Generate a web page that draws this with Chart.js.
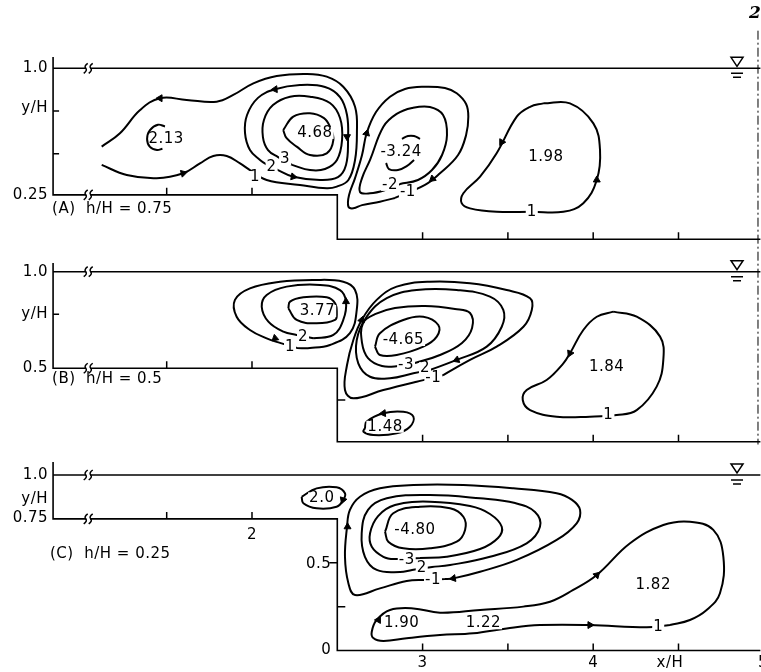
<!DOCTYPE html>
<html>
<head>
<meta charset="utf-8">
<title>Streamlines over a backward-facing step</title>
<script src="https://cdn.jsdelivr.net/npm/chart.js@4.4.0/dist/chart.umd.min.js"></script>
<style>
  html, body { margin: 0; padding: 0; background: #fff; }
  #wrap { width: 761px; height: 672px; }
</style>
</head>
<body>
<div id="wrap"><canvas id="chart" width="761" height="672"></canvas></div>
<script>
// ---------- flume geometry (x/H, y/H) ----------
const xLeft = 0.834, xRight = 4.98, xStep = 2.5, xBreak = 1.04, xSurf = 4.843;
const stepTopA = 0.26, stepTopB = 0.432, stepTopC = 0.75;

// ---------- axis ticks & labels ----------
const xTicksUpper = [1.5, 2.0];
const xTicksLower = [3, 3.5, 4, 4.5];
const leftTicksA = [0.75, 0.5];
const leftTicksB = [0.75];
const yLabelsA = [[1.0, '1.0'], [0.768, 'y/H'], [0.26, '0.25']];
const yLabelsB = [[1.0, '1.0'], [0.75, 'y/H'], [0.432, '0.5']];
const yLabelsC = [[1.0, '1.0'], [0.863, 'y/H'], [0.755, '0.75']];
const xLabelsC = [[2.0, 0.658, '2'], [3.0, -0.071, '3'], [4.0, -0.071, '4'], [4.45, -0.071, 'x/H'], [4.995, -0.071, '5']];

// ---------- panel A : h/H = 0.75 ----------
const a1 = [[1.119,0.542],[1.226,0.620],[1.344,0.756],[1.461,0.825],[1.617,0.815],[1.793,0.805],[1.890,0.844],
  [2.008,0.912],[2.145,0.955],[2.320,0.967],[2.438,0.951],[2.535,0.892],[2.604,0.775],[2.615,0.620],[2.604,0.464],
  [2.565,0.347],[2.497,0.308],[2.438,0.298],[2.281,0.318],[2.086,0.347],[1.988,0.405],[1.930,0.444],[1.852,0.487],
  [1.773,0.487],[1.695,0.444],[1.597,0.386],[1.441,0.357],[1.266,0.376],[1.119,0.435]];
const a2 = [[2.153,0.405],[2.242,0.366],[2.399,0.347],[2.504,0.364],[2.551,0.435],[2.563,0.581],[2.557,0.727],
  [2.516,0.832],[2.428,0.891],[2.281,0.902],[2.135,0.877],[2.035,0.827],[1.971,0.727],[1.959,0.622],[1.988,0.522],
  [2.047,0.464],[2.082,0.440]];
const a3 = [[2.235,0.435],[2.340,0.405],[2.428,0.411],[2.498,0.464],[2.528,0.581],[2.516,0.709],[2.457,0.797],
  [2.340,0.834],[2.223,0.834],[2.123,0.785],[2.070,0.698],[2.064,0.598],[2.094,0.522],[2.153,0.481]];
const a468 = [[2.183,0.639],[2.242,0.717],[2.340,0.737],[2.422,0.709],[2.457,0.658],[2.477,0.581],[2.438,0.503],
  [2.340,0.493],[2.262,0.542],[2.203,0.591]];
const a213 = [[1.490,0.660],[1.449,0.670],[1.402,0.639],[1.385,0.587],[1.402,0.540],[1.443,0.522],[1.475,0.530]];
const aM1 = [[2.838,0.242],[2.750,0.220],[2.645,0.200],[2.594,0.181],[2.565,0.191],[2.569,0.259],[2.604,0.358],
  [2.645,0.493],[2.672,0.620],[2.727,0.744],[2.809,0.834],[2.897,0.879],[3.004,0.892],[3.131,0.885],[3.200,0.854],
  [3.255,0.791],[3.268,0.717],[3.255,0.610],[3.208,0.493],[3.102,0.386],[3.014,0.318]];
const aM2 = [[2.868,0.323],[2.780,0.288],[2.692,0.269],[2.633,0.277],[2.645,0.358],[2.692,0.464],[2.770,0.658],
  [2.848,0.733],[2.938,0.768],[3.043,0.774],[3.120,0.727],[3.143,0.610],[3.114,0.493],[3.055,0.405],[2.973,0.347]];
const aM324up = [[2.879,0.587],[2.914,0.604],[2.950,0.604],[2.985,0.587]];
const aM324lo = [[2.786,0.446],[2.803,0.411],[2.856,0.405],[2.909,0.429],[2.950,0.464]];
const a198 = [[3.708,0.795],[3.864,0.795],[4.001,0.678],[4.040,0.522],[4.021,0.347],[3.942,0.211],[3.825,0.161],
  [3.640,0.161],[3.434,0.161],[3.278,0.181],[3.229,0.211],[3.239,0.269],[3.337,0.366],[3.434,0.503],[3.552,0.717],
  [3.630,0.775]];
// [x, y, text, cut a gap in the line?]
const labelsA = [[2.369,0.622,'4.68',true],[1.497,0.585,'2.13',false],[2.018,0.364,'1',true],[2.115,0.425,'2',true],
  [2.194,0.468,'3',true],[2.874,0.512,'-3.24',true],[2.809,0.318,'-2',true],[2.914,0.277,'-1',true],
  [3.723,0.483,'1.98',true],[3.640,0.161,'1',true]];
const arrowsA = [[1.461,0.825,270],[1.597,0.386,75],[2.242,0.366,100],[2.557,0.600,180],[2.135,0.877,265],
  [2.672,0.620,15],[3.058,0.353,230],[4.021,0.347,0],[3.464,0.568,210]];

// ---------- panel B : h/H = 0.5 ----------
const b1 = [[2.264,0.551],[2.340,0.551],[2.457,0.569],[2.574,0.638],[2.614,0.775],[2.604,0.892],[2.535,0.941],
  [2.360,0.951],[2.164,0.941],[1.988,0.902],[1.900,0.834],[1.910,0.735],[1.988,0.657],[2.086,0.608],[2.164,0.581]];
const b2 = [[2.360,0.608],[2.477,0.628],[2.535,0.716],[2.551,0.824],[2.516,0.892],[2.399,0.922],[2.203,0.912],
  [2.086,0.863],[2.057,0.794],[2.096,0.706],[2.184,0.647],[2.262,0.628]];
const b377 = [[2.213,0.785],[2.262,0.716],[2.379,0.696],[2.487,0.716],[2.497,0.755],[2.487,0.814],[2.438,0.849],
  [2.301,0.849],[2.223,0.824]];
const bM1 = [[3.121,0.392],[3.278,0.481],[3.434,0.559],[3.591,0.676],[3.640,0.775],[3.630,0.844],[3.493,0.892],
  [3.278,0.932],[3.043,0.941],[2.848,0.912],[2.731,0.834],[2.643,0.716],[2.594,0.598],[2.557,0.451],[2.545,0.304],
  [2.594,0.255],[2.770,0.304],[2.965,0.353],[3.061,0.375]];
const bM2 = [[3.043,0.422],[3.200,0.481],[3.376,0.559],[3.464,0.676],[3.473,0.775],[3.395,0.853],[3.200,0.892],
  [2.965,0.892],[2.790,0.844],[2.672,0.735],[2.614,0.598],[2.623,0.461],[2.692,0.382],[2.809,0.373],[2.946,0.402]];
const bM3 = [[2.955,0.463],[3.102,0.510],[3.231,0.581],[3.290,0.669],[3.278,0.757],[3.190,0.781],[3.014,0.798],
  [2.838,0.786],[2.721,0.750],[2.651,0.698],[2.645,0.581],[2.680,0.492],[2.762,0.445],[2.856,0.445]];
const bM465 = [[2.721,0.559],[2.750,0.638],[2.887,0.716],[3.004,0.735],[3.092,0.686],[3.083,0.618],[3.004,0.559],
  [2.848,0.510],[2.750,0.510]];
const b148 = [[2.662,0.079],[2.672,0.118],[2.770,0.167],[2.887,0.176],[2.946,0.147],[2.926,0.088],[2.848,0.049],
  [2.711,0.039],[2.653,0.059]];
const b184 = [[4.118,0.765],[4.255,0.735],[4.392,0.618],[4.411,0.481],[4.372,0.324],[4.255,0.186],[4.138,0.157],
  [3.981,0.147],[3.786,0.147],[3.630,0.186],[3.587,0.245],[3.610,0.304],[3.727,0.363],[3.825,0.461],[3.864,0.520],
  [3.942,0.657],[4.021,0.735]];
const labelsB = [[2.384,0.769,'3.77',true],[2.223,0.554,'1',true],[2.299,0.618,'2',true],[2.887,0.598,'-4.65',true],
  [2.903,0.451,'-3',true],[3.014,0.432,'2',true],[3.063,0.373,'-1',true],[2.780,0.088,'1.48',true],
  [4.079,0.441,'1.84',true],[4.089,0.157,'1',true]];
const arrowsB = [[2.135,0.608,110],[2.551,0.824,0],[2.643,0.716,20],[3.200,0.481,250],[2.770,0.167,265],[3.864,0.520,205]];

// ---------- panel C : h/H = 0.25 ----------
const c20 = [[2.291,0.876],[2.379,0.924],[2.496,0.930],[2.545,0.896],[2.535,0.858],[2.496,0.819],[2.379,0.810],[2.301,0.839]];
const cM480 = [[2.780,0.677],[2.828,0.782],[2.985,0.819],[3.161,0.810],[3.239,0.762],[3.249,0.687],[3.200,0.620],
  [3.043,0.582],[2.887,0.582],[2.799,0.620]];
const cM3 = [[2.985,0.527],[3.141,0.534],[3.337,0.578],[3.442,0.641],[3.464,0.705],[3.395,0.778],[3.278,0.823],
  [3.043,0.848],[2.838,0.829],[2.739,0.766],[2.692,0.668],[2.702,0.591],[2.770,0.534],[2.838,0.521]];
const cM2 = [[3.055,0.476],[3.161,0.487],[3.395,0.534],[3.610,0.611],[3.688,0.705],[3.659,0.789],[3.542,0.840],
  [3.337,0.867],[3.043,0.886],[2.790,0.867],[2.680,0.801],[2.643,0.668],[2.662,0.534],[2.731,0.459],[2.868,0.447],
  [2.938,0.459]];
const cM1 = [[3.131,0.407],[3.180,0.411],[3.337,0.449],[3.552,0.516],[3.786,0.630],[3.903,0.725],[3.923,0.801],
  [3.876,0.858],[3.786,0.896],[3.532,0.924],[3.239,0.943],[2.946,0.943],[2.750,0.924],[2.633,0.876],[2.574,0.801],
  [2.557,0.704],[2.545,0.534],[2.565,0.383],[2.604,0.316],[2.750,0.354],[2.907,0.396],[3.014,0.402]];
const c182 = [[4.450,0.145],[4.567,0.174],[4.665,0.231],[4.743,0.326],[4.763,0.534],[4.704,0.687],[4.567,0.734],
  [4.411,0.715],[4.216,0.611],[4.021,0.430],[3.883,0.345],[3.747,0.278],[3.590,0.250],[3.337,0.231],[3.102,0.215],
  [2.946,0.240],[2.809,0.231],[2.731,0.174],[2.702,0.107],[2.711,0.071],[2.770,0.054],[2.907,0.070],[3.102,0.088],
  [3.297,0.098],[3.493,0.126],[3.688,0.145],[3.981,0.145],[4.313,0.132]];
const labelsC = [[2.409,0.867,'2.0',true],[2.955,0.687,'-4.80',true],[2.907,0.516,'-3',true],[2.995,0.470,'2',true],
  [3.061,0.402,'-1',true],[4.352,0.373,'1.82',true],[2.877,0.155,'1.90',true],[3.356,0.155,'1.22',true],
  [4.381,0.136,'1',true]];
const arrowsC = [[2.533,0.858,200],[2.56,0.705,0],[3.180,0.411,260],[4.021,0.430,45],[2.741,0.174,30],[3.981,0.145,90]];

// ---------- helpers ----------
const pts = a => a.map(([x, y]) => ({ x, y }));
const loop = a => pts(a.concat([a[0]]));

function contour(data, axis) {
  return { data, yAxisID: axis, showLine: true, borderColor: '#000', borderWidth: 2,
    pointRadius: 0, tension: 0.4, fill: false };
}
function wall(a, axis) {
  return { data: pts(a), yAxisID: axis, showLine: true, borderColor: '#000', borderWidth: 1.6,
    pointRadius: 0, tension: 0, fill: false };
}
function arrows(a, axis) {
  return { data: pts(a), yAxisID: axis, showLine: false, pointStyle: 'triangle', pointRadius: 4,
    pointBackgroundColor: '#000', pointBorderColor: '#000', pointBorderWidth: 1,
    pointRotation: ctx => a[ctx.dataIndex] ? a[ctx.dataIndex][2] : 0 };
}
const profile = (top, step) => [[xLeft, top], [xLeft, step], [xStep, step], [xStep, 0], [xRight, 0]];

const panels = [
  { axis: 'yA', step: stepTopA, labels: labelsA, yLabels: yLabelsA, leftTicks: leftTicksA, wallTicks: [],
    title: '(A)  h/H = 0.75', titleAt: [0.828, 0.177] },
  { axis: 'yB', step: stepTopB, labels: labelsB, yLabels: yLabelsB, leftTicks: leftTicksB, wallTicks: [[0.245, 1]],
    title: '(B)  h/H = 0.5', titleAt: [0.828, 0.369] },
  { axis: 'yC', step: stepTopC, labels: labelsC, yLabels: yLabelsC, leftTicks: [], wallTicks: [[0.5, -1], [0.25, 1]],
    title: '(C)  h/H = 0.25', titleAt: [0.816, 0.550] }
];

const FONT = '15px "DejaVu Sans", sans-serif';

const deco = {
  id: 'deco',
  afterDatasetsDraw(chart) {
    const { ctx, scales } = chart;
    const X = v => scales.x.getPixelForValue(v);
    ctx.save();
    ctx.font = FONT;
    if ('letterSpacing' in ctx) ctx.letterSpacing = '0.5px';
    ctx.textBaseline = 'middle';
    ctx.strokeStyle = '#000';
    ctx.fillStyle = '#000';
    ctx.lineWidth = 1.5;

    panels.forEach(p => {
      const Y = v => scales[p.axis].getPixelForValue(v);
      // ticks on the channel floor
      ctx.beginPath();
      xTicksUpper.forEach(v => { ctx.moveTo(X(v), Y(p.step)); ctx.lineTo(X(v), Y(p.step) - 7); });
      xTicksLower.forEach(v => { ctx.moveTo(X(v), Y(0)); ctx.lineTo(X(v), Y(0) - 7); });
      p.leftTicks.forEach(v => { ctx.moveTo(X(xLeft), Y(v)); ctx.lineTo(X(xLeft) + 6, Y(v)); });
      p.wallTicks.forEach(([v, d]) => { ctx.moveTo(X(xStep), Y(v)); ctx.lineTo(X(xStep) + 8 * d, Y(v)); });
      ctx.stroke();

      // axis breaks on the surface and step lines
      [1.0, p.step].forEach(v => {
        const bx = X(xBreak), by = Y(v);
        ctx.fillStyle = '#fff';
        ctx.fillRect(bx - 2, by - 2, 4, 4);
        ctx.fillStyle = '#000';
        ctx.beginPath();
        [-2.5, 2.5].forEach(o => {
          ctx.moveTo(bx + o - 2, by + 5);
          ctx.quadraticCurveTo(bx + o + 2, by + 2, bx + o, by);
          ctx.quadraticCurveTo(bx + o - 2, by - 2, bx + o + 2, by - 5);
        });
        ctx.stroke();
      });

      // free-surface symbol
      const sx = X(xSurf), sy = Y(1.0);
      ctx.beginPath();
      ctx.moveTo(sx - 6, sy - 11); ctx.lineTo(sx + 6, sy - 11); ctx.lineTo(sx, sy - 2); ctx.closePath();
      ctx.moveTo(sx - 6, sy + 5); ctx.lineTo(sx + 6, sy + 5);
      ctx.moveTo(sx - 4, sy + 9); ctx.lineTo(sx + 4, sy + 9);
      ctx.stroke();

      // left axis labels
      ctx.textAlign = 'right';
      p.yLabels.forEach(([v, t]) => ctx.fillText(t, X(xLeft) - 5, Y(v)));
      // panel title
      ctx.textAlign = 'left';
      ctx.fillText(p.title, X(p.titleAt[0]), Y(p.titleAt[1]));

      // contour values, most of them cut a gap in their line
      ctx.textAlign = 'center';
      p.labels.forEach(([x, y, t, gap]) => {
        const w = ctx.measureText(t).width;
        if (gap) {
          ctx.fillStyle = '#fff';
          ctx.fillRect(X(x) - w / 2 - 1, Y(y) - 6, w + 2, 12);
        }
        ctx.fillStyle = '#000';
        ctx.fillText(t, X(x), Y(y));
      });
    });

    // labels of panel C axes
    const YC = v => scales.yC.getPixelForValue(v);
    ctx.textAlign = 'center';
    xLabelsC.forEach(([x, y, t]) => ctx.fillText(t, X(x), YC(y)));
    ctx.textAlign = 'right';
    ctx.fillText('0.5', X(xStep) - 6, YC(0.49));
    ctx.fillText('0', X(xStep) - 6, YC(0.0));

    // dash-dot section line at the right edge and the page mark
    const YA = v => scales.yA.getPixelForValue(v);
    ctx.lineWidth = 1;
    ctx.setLineDash([9, 3, 2, 3]);
    ctx.beginPath();
    ctx.moveTo(X(4.966), YA(1.22)); ctx.lineTo(X(4.966), YA(-1.2));
    ctx.stroke();
    ctx.setLineDash([]);
    ctx.font = 'italic bold 17px "DejaVu Serif", serif';
    ctx.fillText('2', X(4.985), YA(1.318));
    ctx.restore();
  }
};

const datasets = [
  wall([[xLeft, 1], [xRight, 1]], 'yA'), wall(profile(1.066, stepTopA), 'yA'),
  wall([[xLeft, 1], [xRight, 1]], 'yB'), wall(profile(1.051, stepTopB), 'yB'),
  wall([[xLeft, 1], [xRight, 1]], 'yC'), wall(profile(1.074, stepTopC), 'yC'),

  contour(pts(a1), 'yA'), contour(loop(a2), 'yA'), contour(loop(a3), 'yA'), contour(loop(a468), 'yA'),
  contour(pts(a213), 'yA'), contour(loop(aM1), 'yA'), contour(loop(aM2), 'yA'),
  contour(pts(aM324up), 'yA'), contour(pts(aM324lo), 'yA'), contour(loop(a198), 'yA'),
  arrows(arrowsA, 'yA'),

  contour(loop(b1), 'yB'), contour(loop(b2), 'yB'), contour(loop(b377), 'yB'), contour(loop(bM1), 'yB'),
  contour(loop(bM2), 'yB'), contour(loop(bM3), 'yB'), contour(loop(bM465), 'yB'), contour(loop(b148), 'yB'),
  contour(loop(b184), 'yB'),
  arrows(arrowsB, 'yB'),

  contour(loop(c20), 'yC'), contour(loop(cM480), 'yC'), contour(loop(cM3), 'yC'), contour(loop(cM2), 'yC'),
  contour(loop(cM1), 'yC'), contour(loop(c182), 'yC'),
  arrows(arrowsC, 'yC')
];

new Chart(document.getElementById('chart'), {
  type: 'scatter',
  data: { datasets },
  options: {
    responsive: false,
    animation: false,
    events: [],
    layout: { autoPadding: false, padding: 0 },
    plugins: { legend: { display: false }, tooltip: { enabled: false } },
    scales: {
      x: { type: 'linear', min: 0.5229, max: 4.9836, display: false },
      y: { type: 'linear', display: false },
      yA: { type: 'linear', axis: 'y', min: -2.5304, max: 1.3994, display: false },
      yB: { type: 'linear', axis: 'y', min: -1.3547, max: 2.598, display: false },
      yC: { type: 'linear', axis: 'y', min: -0.1225, max: 3.7066, display: false }
    }
  },
  plugins: [deco]
});
</script>
</body>
</html>
